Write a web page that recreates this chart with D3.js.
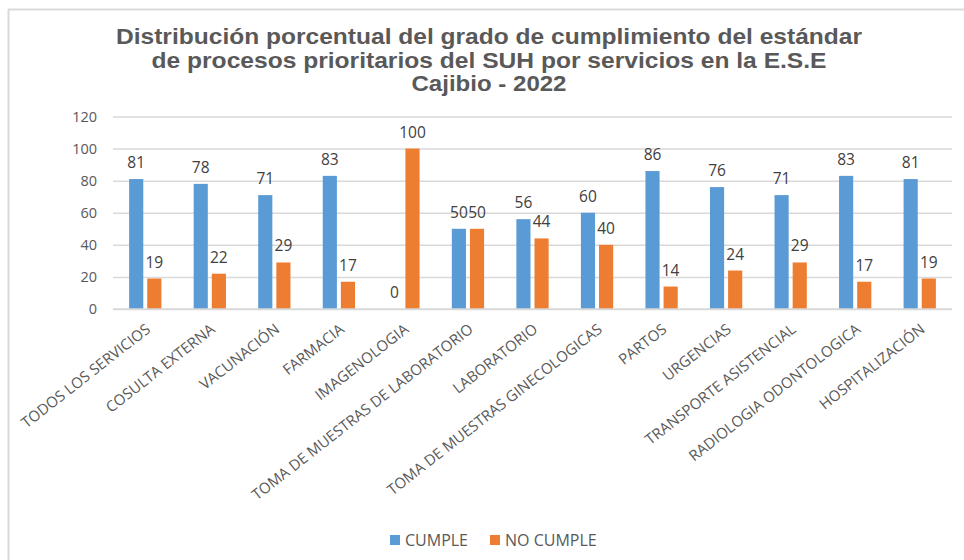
<!DOCTYPE html>
<html>
<head>
<meta charset="utf-8">
<script src="https://cdn.jsdelivr.net/npm/d3@7"></script>
<style>
  body { margin: 0; background: #fff; }
  svg { display: block; }
</style>
</head>
<body>
<svg id="chart" width="964" height="560"></svg>
<script>
// Datos del gráfico: cumplimiento del estándar por servicio (porcentaje)
const services = [
  'TODOS LOS SERVICIOS', 'COSULTA EXTERNA', 'VACUNACIÓN', 'FARMACIA', 'IMAGENOLOGIA',
  'TOMA DE MUESTRAS DE LABORATORIO', 'LABORATORIO', 'TOMA DE MUESTRAS GINECOLOGICAS',
  'PARTOS', 'URGENCIAS', 'TRANSPORTE ASISTENCIAL', 'RADIOLOGIA ODONTOLOGICA', 'HOSPITALIZACIÓN'
];
const cumple   = [81, 78, 71, 83, 0, 50, 56, 60, 86, 76, 71, 83, 81];
const noCumple = [19, 22, 29, 17, 100, 50, 44, 40, 14, 24, 29, 17, 19];
const seriesNames = ['CUMPLE', 'NO CUMPLE'];
const yTicks = [0, 20, 40, 60, 80, 100, 120];
const titleLines = [
  'Distribución porcentual del grado de cumplimiento  del estándar',
  'de procesos prioritarios del SUH por servicios en la E.S.E',
  'Cajibio - 2022'
];
// ancho medido de cada línea del título (la fuente original es algo más estrecha)
const titleWidths = [746, 675, 155];

const COLORS = { CUMPLE: '#5B9BD5', 'NO CUMPLE': '#ED7D31' };
const GRID = '#d9d9d9', TEXT = '#595959', LABEL = '#404040';
const FONT = '"Open Sans", "Noto Sans", sans-serif';

const plot = { left: 113, right: 952, top: 116.5, bottom: 309 };

const svg = d3.select('#chart');

// marco gris (sólo arriba e izquierda visibles)
svg.append('line').attr('x1', 8).attr('x2', 964).attr('y1', 9.5).attr('y2', 9.5)
  .attr('stroke', '#d9d9d9').attr('stroke-width', 2);
svg.append('line').attr('x1', 8.5).attr('x2', 8.5).attr('y1', 9).attr('y2', 560)
  .attr('stroke', '#d9d9d9').attr('stroke-width', 2);

// título
svg.append('g').selectAll('text').data(titleLines).join('text')
  .attr('x', 489).attr('y', (d, i) => 44 + i * 23.5)
  .attr('text-anchor', 'middle')
  .attr('font-family', '"Liberation Sans", Arial, sans-serif')
  .attr('font-weight', 700).attr('font-size', 22.5)
  .attr('textLength', (d, i) => titleWidths[i]).attr('lengthAdjust', 'spacingAndGlyphs')
  .attr('fill', TEXT)
  .text(d => d);

const rows = services.map((name, i) => ({ name, values: [cumple[i], noCumple[i]] }));

const x0 = d3.scaleBand().domain(services).range([plot.left, plot.right]);
const x1 = d3.scaleBand().domain(seriesNames)
  .range([x0.bandwidth() * 0.25, x0.bandwidth() * 0.75]).paddingInner(0.22);
const y = d3.scaleLinear().domain([0, 120]).range([plot.bottom, plot.top]);

// líneas de cuadrícula y eje Y
const yAxis = d3.axisLeft(y).tickValues(yTicks).tickSize(-(plot.right - plot.left)).tickPadding(16);
const yg = svg.append('g').attr('transform', `translate(${plot.left},0)`).call(yAxis);
yg.select('.domain').remove();
yg.selectAll('.tick line').attr('stroke', GRID).attr('stroke-width', 1.5);
yg.selectAll('.tick text').attr('font-family', FONT).attr('font-size', 14.5).attr('fill', TEXT);

// barras
const groups = svg.append('g').selectAll('g').data(rows).join('g')
  .attr('transform', d => `translate(${x0(d.name)},0)`);

const cells = groups.selectAll('g').data(d => d.values.map((v, k) => ({ key: seriesNames[k], value: v })))
  .join('g');

cells.append('rect')
  .attr('x', d => x1(d.key)).attr('width', x1.bandwidth())
  .attr('y', d => y(d.value)).attr('height', d => y(0) - y(d.value))
  .attr('fill', d => COLORS[d.key]);

cells.append('text')
  .attr('x', d => x1(d.key) + x1.bandwidth() / 2)
  .attr('y', d => y(d.value) - 11)
  .attr('text-anchor', 'middle')
  .attr('font-family', FONT).attr('font-size', 15.5).attr('fill', LABEL)
  .text(d => d.value);

// eje X (línea base + etiquetas giradas)
svg.append('line').attr('x1', plot.left).attr('x2', plot.right)
  .attr('y1', y(0)).attr('y2', y(0)).attr('stroke', GRID).attr('stroke-width', 1.5);

svg.append('g').selectAll('text').data(services).join('text')
  .attr('transform', d => `translate(${x0(d) + x0.bandwidth() / 2 + 3},${plot.bottom + 18}) rotate(-38)`)
  .attr('text-anchor', 'end').attr('dy', '0.35em')
  .attr('font-family', FONT).attr('font-size', 15).attr('fill', TEXT)
  .text(d => d);

// leyenda
const legend = svg.append('g').selectAll('g').data(seriesNames).join('g')
  .attr('transform', (d, i) => `translate(${390 + i * 100},535)`);
legend.append('rect').attr('width', 10).attr('height', 10).attr('fill', d => COLORS[d]);
legend.append('text').attr('x', 15).attr('y', 10.5)
  .attr('font-family', FONT).attr('font-size', 16).attr('fill', TEXT)
  .text(d => d);
</script>
</body>
</html>
